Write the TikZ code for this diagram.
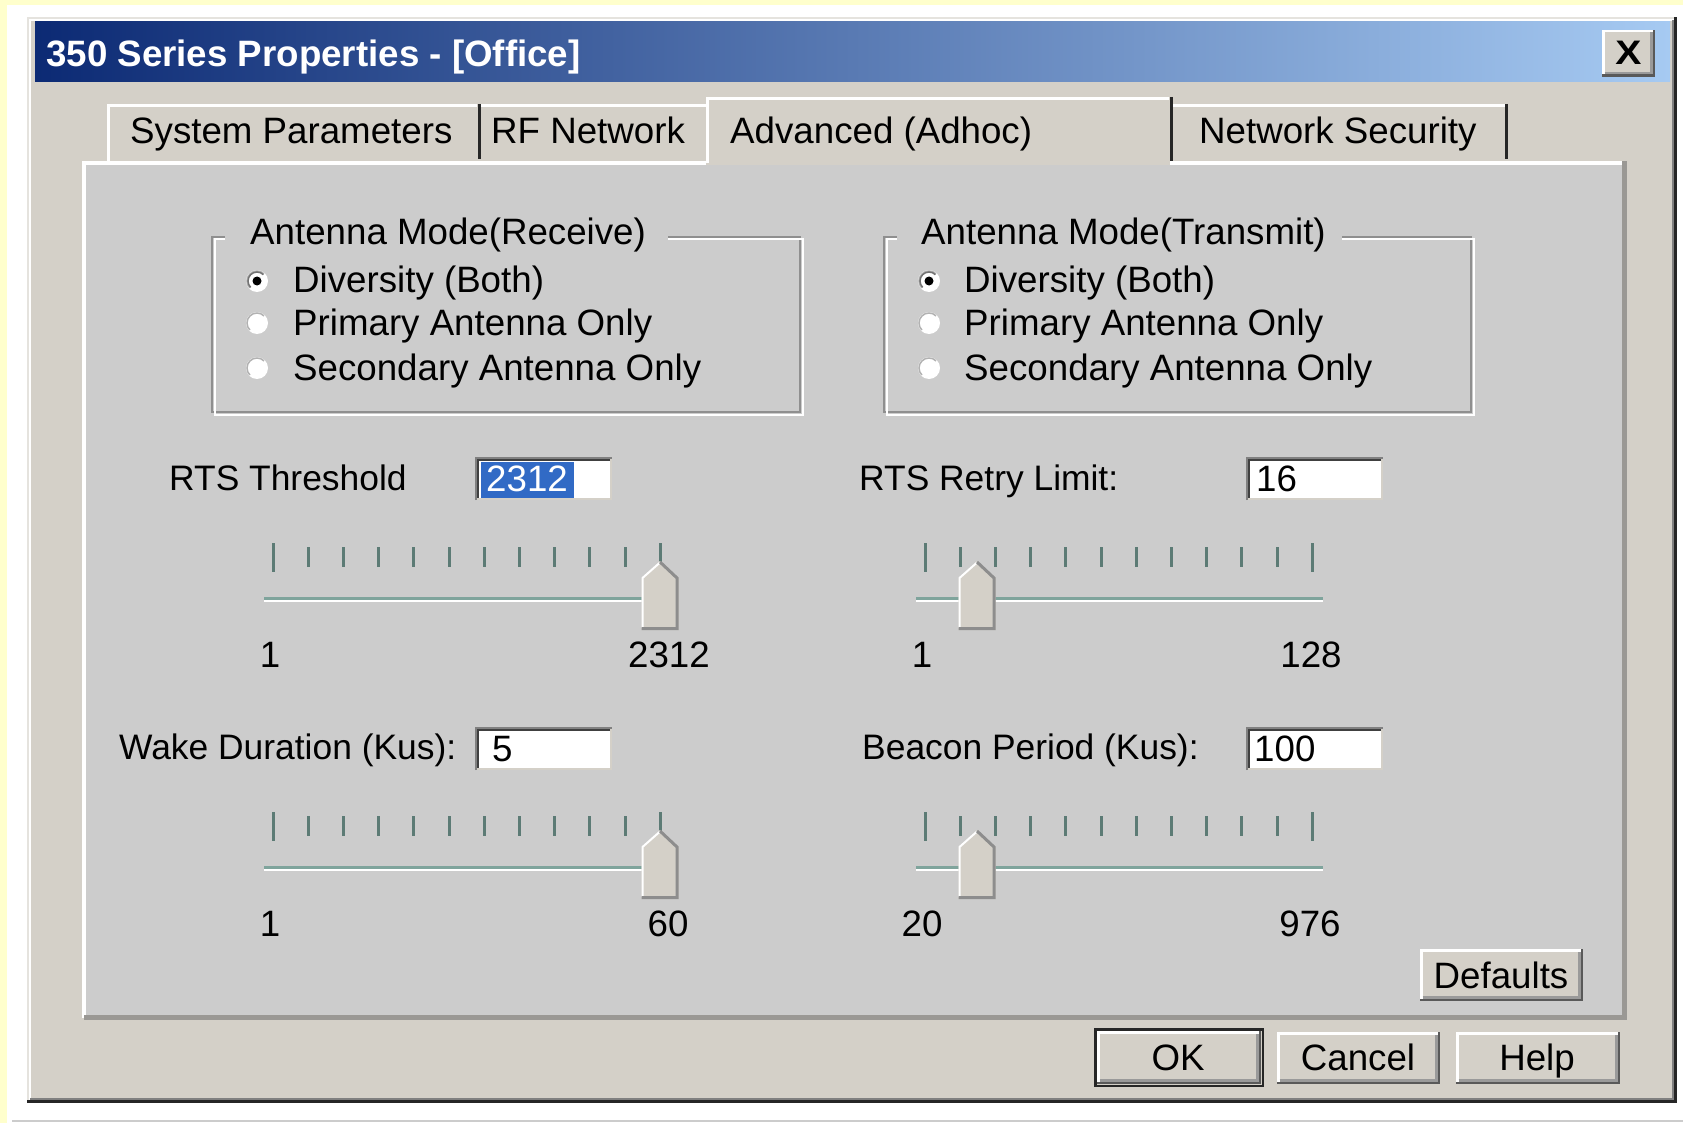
\documentclass[tikz,border=0pt]{standalone}
\usepackage{fontspec}
\setmainfont{Liberation Sans}
\definecolor{dlg}{HTML}{D4D0C8}
\definecolor{pnl}{HTML}{CCCCCC}
\definecolor{bgy}{HTML}{FFFFCC}
\definecolor{shd}{HTML}{808080}
\definecolor{etch}{HTML}{8F8F8F}
\definecolor{tickc}{HTML}{5C7B75}
\definecolor{trackc}{HTML}{7FA49C}
\definecolor{selblue}{HTML}{316AC5}
\definecolor{tbl}{HTML}{0C2A74}
\definecolor{tbm}{HTML}{5A7FC4}
\definecolor{tbr}{HTML}{A6CAF2}
\definecolor{pnldark}{HTML}{9A9894}
\tikzset{
  txt/.style={font=\fontsize{36.7}{44}\selectfont, inner sep=0pt, anchor=base west, text=black},
  ctxt/.style={txt, anchor=base},
  lbl/.style={txt, font=\fontsize{35.4}{44}\selectfont},
  tickst/.style={tickc, line width=3pt},
}
% raised button frame
\newcommand\uibtn[4]{%
  \fill[dlg] (#1,#2) rectangle (#3,#4);
  \draw[white, line width=2.5pt] (#1+1.25,#4-2) -- (#1+1.25,#2+1.25) -- (#3-2,#2+1.25);
  \draw[black!65, line width=2.5pt] (#1,#4-1.25) -- (#3-1.25,#4-1.25) -- (#3-1.25,#2);
  \draw[shd!80, line width=2.5pt] (#1+2.5,#4-3.75) -- (#3-3.75,#4-3.75) -- (#3-3.75,#2+2.5);
}
% sunken text field
\newcommand\uifield[4]{%
  \fill[white] (#1,#2) rectangle (#3,#4);
  \draw[shd, line width=2pt] (#1+1,#4) -- (#1+1,#2+1) -- (#3,#2+1);
  \draw[black!75, line width=2.5pt] (#1+3,#4-1) -- (#1+3,#2+3) -- (#3-1,#2+3);
  \draw[dlg, line width=2pt] (#1+2,#4-1) -- (#3-1,#4-1) -- (#3-1,#2+2);
}
% etched group box with title gap
\newcommand\uigroup[6]{%
  \draw[etch, line width=2pt] (#5,#2) -- (#1,#2) -- (#1,#4) -- (#3,#4) -- (#3,#2) -- (#6,#2);
  \draw[white, line width=2pt] (#5,#2+2.5) -- (#1+2.5,#2+2.5) -- (#1+2.5,#4+2.5) -- (#3+2.5,#4+2.5) -- (#3+2.5,#2+2.5) -- (#6,#2+2.5);
}
% radio button
\newcommand\uiradio[3]{%
  \fill[white] (#1,#2) circle[radius=11pt];
  \draw[black!30, line width=1.5pt] (#1,#2) ++(45:10pt) arc[start angle=45, end angle=225, radius=10pt];
  \ifnum#3=1
    \draw[black!55, line width=1.5pt] (#1,#2) ++(45:9pt) arc[start angle=45, end angle=225, radius=9pt];
    \fill[black] (#1,#2) circle[radius=4.5pt];
  \fi
}
% slider: first tick x, y offset, thumb centre x
\newcommand\uislider[3]{%
  \foreach \i in {1,...,10} \draw[tickst] ({#1+\i*35.2},{547+#2}) -- ({#1+\i*35.2},{567+#2});
  \draw[tickst] (#1,{543+#2}) -- (#1,{572+#2});
  \draw[tickst] ({#1+387.2},{543+#2}) -- ({#1+387.2},{572+#2});
  \draw[trackc, line width=3pt] ({#1-9},{598+#2}) -- ({#1+398},{598+#2});
  \draw[white, line width=2pt] ({#1-9},{601+#2}) -- ({#1+398},{601+#2});
  \fill[dlg] ({#3-18.5},{630+#2}) -- ({#3-18.5},{578+#2}) -- (#3,{561+#2}) -- ({#3+18.5},{578+#2}) -- ({#3+18.5},{630+#2}) -- cycle;
  \draw[white, line width=2pt] ({#3-17.5},{628+#2}) -- ({#3-17.5},{578+#2}) -- (#3,{562.5+#2});
  \draw[shd!90, line width=3pt] (#3,{562+#2}) -- ({#3+17},{578+#2}) -- ({#3+17},{628.5+#2}) -- ({#3-18.5},{628.5+#2});
}
\begin{document}
\begin{tikzpicture}[x=1pt,y=-1pt]
\useasboundingbox (0,0) rectangle (1683,1123);
% page background
\fill[white] (0,0) rectangle (1683,1123);
\fill[bgy] (0,0) rectangle (7,1123);
\fill[bgy] (0,0) rectangle (1683,5);
\draw[black!20, line width=2pt] (12,1121) -- (1683,1121);
% dialog frame
\fill[dlg] (27,17) rectangle (1677,1103);
\draw[dlg!60!white, line width=2pt] (28,1103) -- (28,18) -- (1677,18);
\draw[white, line width=2pt] (30,1100) -- (30,20) -- (1674,20);
\draw[black!85, line width=3pt] (27,1101.5) -- (1675.5,1101.5) -- (1675.5,17);
\draw[shd, line width=2pt] (30,1098.5) -- (1672.5,1098.5) -- (1672.5,20);
% title bar
\shade[left color=tbl, middle color=tbm, right color=tbr] (35,22) rectangle (1670,82);
\node[txt, text=white, font=\bfseries\fontsize{36.7}{44}\selectfont] (title) at (46,67) {350 Series Properties - [Office]};
% close button
\uibtn{1602}{30}{1655}{77}
\node[font=\bfseries\fontsize{34}{40}\selectfont, inner sep=0pt, anchor=base, xscale=1.15] (closex) at (1628.5,65) {X};
% panel
\fill[pnl] (84,161) rectangle (1627,1020);
\draw[white, line width=4pt] (84,1018) -- (84,163) -- (1625,163);
\draw[pnldark, line width=5pt] (84,1017.5) -- (1624.5,1017.5) -- (1624.5,161);
% inactive tabs
\fill[dlg] (107,104) rectangle (478,160);
\draw[white, line width=3pt] (108.5,161) -- (108.5,105.5) -- (477,105.5);
\fill[dlg] (478,104) rectangle (706,160);
\draw[white, line width=3pt] (478,105.5) -- (706,105.5);
\draw[black!85, line width=3pt] (479,104) -- (479,159);
\fill[dlg] (1171,104) rectangle (1507,160);
\draw[white, line width=3pt] (1171,105.5) -- (1505,105.5);
\draw[black!85, line width=3pt] (1506,104) -- (1506,159);
% active tab
\fill[dlg] (706,97) rectangle (1170,165);
\draw[white, line width=3pt] (707.5,163) -- (707.5,98.5) -- (1169,98.5);
\draw[black!85, line width=3pt] (1171,97) -- (1171,161);
% tab labels
\node[txt] (tabsys) at (130,144) {System Parameters};
\node[txt] (tabrf) at (491,144) {RF Network};
\node[txt] (tabadv) at (730,144) {Advanced (Adhoc)};
\node[txt] (tabsec) at (1199,144) {Network Security};
% group boxes
\uigroup{212}{237}{800}{412}{225}{668}
\uigroup{884}{237}{1471}{412}{897}{1342}
\node[txt] (rxtitle) at (250,245) {Antenna Mode(Receive)};
\node[txt] (txtitle) at (921,245) {Antenna Mode(Transmit)};
\uiradio{257}{281}{1}
\uiradio{257}{323}{0}
\uiradio{257}{368}{0}
\uiradio{929}{281}{1}
\uiradio{929}{323}{0}
\uiradio{929}{368}{0}
\node[txt] (rxdiv) at (293,292) {Diversity (Both)};
\node[txt] (rxpri) at (293,335) {Primary Antenna Only};
\node[txt] (rxsec) at (293,380) {Secondary Antenna Only};
\node[txt] (txdiv) at (964,292) {Diversity (Both)};
\node[txt] (txpri) at (964,335) {Primary Antenna Only};
\node[txt] (txsec) at (964,380) {Secondary Antenna Only};
% fields and labels
\node[lbl] (rtslbl) at (169,490) {RTS Threshold};
\node[lbl] (retrylbl) at (859,490) {RTS Retry Limit:};
\node[lbl] (wakelbl) at (119,759) {Wake Duration (Kus):};
\node[lbl] (beaconlbl) at (862,759) {Beacon Period (Kus):};
\uifield{475}{457}{612}{500}
\uifield{1246}{457}{1383}{500}
\uifield{475}{727}{612}{770}
\uifield{1246}{727}{1383}{770}
\fill[selblue] (481,462) rectangle (574,498);
\node[txt, text=white] (rtsval) at (486,491) {2312};
\node[txt] (retryval) at (1256,491) {16};
\node[txt] (wakeval) at (492,761) {5};
\node[txt] (beaconval) at (1254,761) {100};
% sliders
\uislider{273}{0}{660}
\uislider{925}{0}{977}
\uislider{273}{269}{660}
\uislider{925}{269}{977}
\node[ctxt] (s1min) at (270,667) {1};
\node[ctxt] (s1max) at (669,667) {2312};
\node[ctxt] (s2min) at (922,667) {1};
\node[ctxt] (s2max) at (1311,667) {128};
\node[ctxt] (s3min) at (270,936) {1};
\node[ctxt] (s3max) at (668,936) {60};
\node[ctxt] (s4min) at (922,936) {20};
\node[ctxt] (s4max) at (1310,936) {976};
% buttons
\uibtn{1420}{949}{1583}{1001}
\node[ctxt] (defaults) at (1501,988) {Defaults};
\draw[black!85, line width=2.5pt] (1095.25,1029.25) rectangle (1262.75,1085.75);
\uibtn{1097}{1031}{1261}{1084}
\node[ctxt] (ok) at (1178,1070) {OK};
\uibtn{1277}{1032}{1440}{1084}
\node[ctxt] (cancel) at (1358,1070) {Cancel};
\uibtn{1456}{1032}{1620}{1084}
\node[ctxt] (help) at (1537,1070) {Help};
\end{tikzpicture}
\end{document}
